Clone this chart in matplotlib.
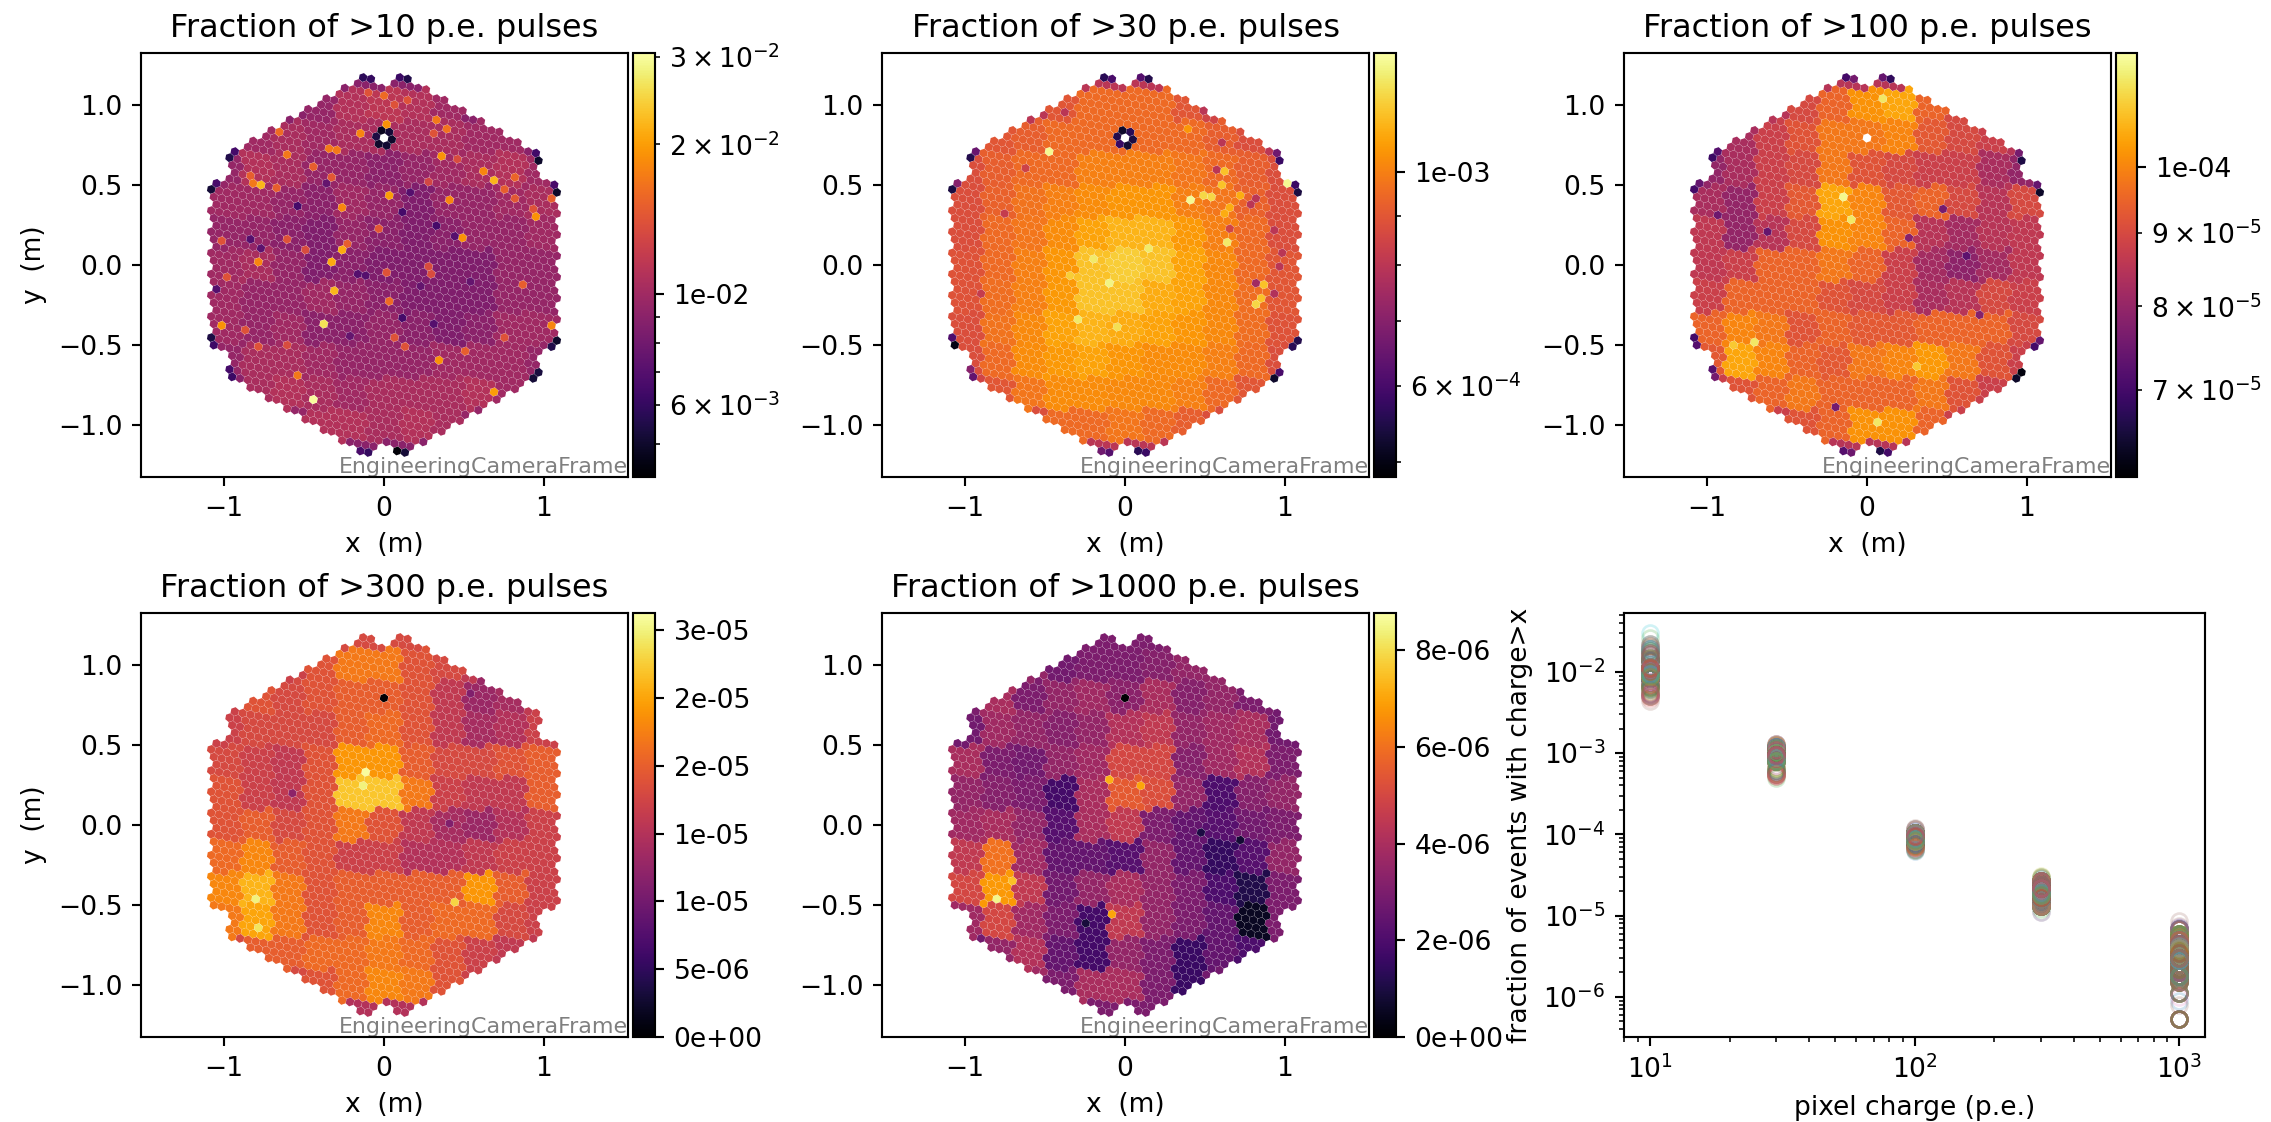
import numpy as np
import matplotlib
matplotlib.use("Agg")
import matplotlib.pyplot as plt
from matplotlib.collections import PolyCollection
from matplotlib.colors import LogNorm, Normalize
from matplotlib.ticker import LogLocator

W, H = 2271, 1122
DPI = 191

thresholds = [10, 30, 100, 300, 1000]

# coarse maps: rows y = 1.2 ... -1.2, columns x = -1.2 ... 1.2
frac_10 = [  # 1e-3
    [9, 9, 9, 9, 9, 9, 9, 9, 9, 9, 9, 9, 9],
    [9, 9, 9, 9, 9.5, 11, 11.5, 11, 10, 9, 9, 9, 9],
    [9, 9, 10, 10.5, 10, 10.5, 10.5, 10.5, 10.5, 10, 10, 9, 9],
    [9, 9.5, 11, 10.5, 9.5, 9.5, 9, 9.5, 10, 10.5, 11, 10, 9],
    [9, 10, 10, 9.5, 9, 10, 9.5, 8.5, 9.5, 9.5, 10, 10.5, 9],
    [9, 9.5, 9.5, 9, 8.5, 9.5, 9, 8.5, 9, 9.5, 9.5, 10, 9],
    [9, 10, 10.5, 9.5, 8.5, 9, 8.5, 8.5, 8.5, 8.5, 9.5, 9.5, 9],
    [9, 10, 9.5, 9.5, 10, 9.5, 9, 8.5, 8.5, 8.5, 9.5, 9.5, 9],
    [9, 10, 9.5, 10, 9, 9, 9.5, 9, 8.5, 9, 10, 10, 9],
    [9, 9.5, 10.5, 10.5, 10, 9.5, 9.5, 9.5, 10, 10, 10, 9.5, 9],
    [9, 9, 10.5, 11, 10.5, 10, 10.5, 10.5, 10.5, 11, 10, 9, 9],
    [9, 9, 9, 9.5, 11, 11, 10.5, 11, 10.5, 9.5, 9, 9, 9],
    [9, 9, 9, 9, 9, 9, 9, 9, 9, 9, 9, 9, 9],
]
frac_30 = [  # 1e-4
    [8, 8, 8, 8, 8, 8, 8, 8, 8, 8, 8, 8, 8],
    [8, 8, 8, 8, 9, 9.5, 9.5, 9.5, 9, 8.5, 8, 8, 8],
    [8, 8, 9, 9.2, 9.5, 9.5, 9.5, 9.5, 9.5, 9.2, 8.8, 8, 8],
    [8, 8.8, 9.2, 9.5, 9.5, 10, 10, 10, 9.8, 9.5, 9.2, 8.8, 8],
    [8, 8.8, 9.3, 9.7, 10, 10.3, 10.5, 10.5, 10, 9.8, 9.3, 8.8, 8],
    [8, 8.8, 9.5, 9.8, 10.3, 10.8, 11.2, 11.2, 10.6, 10, 9.5, 8.8, 8],
    [8, 8.9, 9.5, 10, 10.5, 11.5, 11.8, 11.5, 10.8, 10.2, 9.5, 9, 8],
    [8, 8.9, 9.6, 10, 10.6, 11.5, 11.5, 11, 10.8, 10.2, 9.6, 9, 8],
    [8, 8.8, 9.7, 10.2, 10.8, 11.2, 11, 10.8, 10.5, 10.2, 9.6, 8.9, 8],
    [8, 8.8, 9.5, 10.3, 10.6, 10.8, 10.5, 10.3, 10.3, 10, 9.5, 8.8, 8],
    [8, 8.5, 9, 9.8, 10.3, 10.3, 10.2, 10.2, 10, 9.5, 9, 8.5, 8],
    [8, 8, 8, 8.8, 9.5, 9.5, 9.8, 9.5, 9.2, 8.8, 8, 8, 8],
    [8, 8, 8, 8, 8, 8, 8, 8, 8, 8, 8, 8, 8],
]
frac_100 = [  # 1e-5
    [8.5, 8.5, 8.5, 8.5, 8.5, 8.5, 8.5, 8.5, 8.5, 8.5, 8.5, 8.5, 8.5],
    [8.5, 8.5, 8.5, 8.5, 9, 9.5, 10.2, 10.5, 9.5, 9, 8.5, 8.5, 8.5],
    [8.5, 8.5, 8.3, 8.8, 9.2, 9.8, 9.8, 10, 9.3, 9, 8.8, 8.5, 8.5],
    [8.5, 8, 8.3, 8.8, 9, 9.8, 9.2, 9, 8.8, 8.8, 8.3, 8, 8.5],
    [8.5, 8.3, 8, 8.8, 9.3, 10.5, 10, 9.3, 9.5, 9, 8.5, 9, 8.5],
    [8.5, 8.6, 8, 8.5, 9, 10.2, 10, 9.5, 8.5, 8.2, 8.5, 8.6, 8.5],
    [8.5, 8.6, 8.8, 9.5, 9.5, 9.8, 9.5, 8.8, 8.2, 7.9, 8.2, 8.6, 8.5],
    [8.5, 8.8, 9.5, 9.5, 9.5, 9.2, 9, 8.8, 8.3, 8.5, 9, 8.8, 8.5],
    [8.5, 9.5, 10, 9.8, 9.2, 9.5, 9.3, 9.3, 9.5, 9.5, 9.5, 9, 8.5],
    [8.5, 9.3, 10.5, 10, 9.5, 9.3, 9.8, 10, 10.3, 9.8, 9.2, 8.8, 8.5],
    [8.5, 8.8, 9.2, 9.5, 9.8, 9.5, 9.5, 9.5, 9.8, 9.2, 8.8, 8.5, 8.5],
    [8.5, 8.5, 8.5, 8.8, 9.2, 9.5, 10.2, 10.2, 9.5, 8.8, 8.5, 8.5, 8.5],
    [8.5, 8.5, 8.5, 8.5, 8.5, 8.5, 8.5, 8.5, 8.5, 8.5, 8.5, 8.5, 8.5],
]
frac_300 = [  # 1e-6
    [18, 18, 18, 18, 18, 18, 18, 18, 18, 18, 18, 18, 18],
    [17, 17, 17, 17, 19, 22, 22, 19, 18, 16, 16, 16, 16],
    [17, 17, 19, 18, 19, 20, 20, 19, 16, 13, 14, 16, 16],
    [17, 17, 18, 18, 18, 20, 21, 19, 16, 14, 15, 17, 17],
    [17, 18, 17, 16, 19, 24, 24, 20, 18, 18, 19, 20, 17],
    [17, 19, 17, 16, 19, 27, 27, 22, 17, 16, 16, 20, 17],
    [17, 19, 20, 18, 19, 22, 19, 16, 14, 13, 15, 17, 17],
    [17, 21, 23, 20, 19, 17, 17, 15, 15, 16, 17, 17, 17],
    [17, 23, 26, 22, 19, 20, 20, 20, 20, 24, 20, 17, 17],
    [17, 22, 25, 22, 19, 20, 23, 20, 21, 21, 18, 17, 17],
    [17, 18, 20, 20, 21, 21, 22, 21, 19, 17, 16, 16, 17],
    [17, 17, 17, 18, 19, 21, 23, 22, 19, 17, 17, 17, 17],
    [15, 15, 15, 15, 15, 15, 15, 15, 15, 15, 15, 15, 15],
]
frac_1000 = [  # 1e-7
    [30, 30, 30, 30, 30, 30, 30, 30, 30, 30, 30, 30, 30],
    [35, 35, 35, 35, 28, 30, 30, 32, 35, 35, 35, 35, 35],
    [30, 30, 40, 30, 35, 38, 33, 40, 32, 35, 30, 30, 30],
    [30, 28, 38, 35, 32, 35, 42, 45, 35, 38, 40, 28, 30],
    [30, 40, 30, 28, 35, 38, 50, 50, 32, 38, 42, 30, 30],
    [30, 35, 32, 30, 18, 40, 55, 52, 35, 20, 32, 35, 30],
    [30, 38, 40, 35, 22, 40, 45, 30, 25, 22, 28, 30, 30],
    [30, 45, 60, 38, 25, 25, 22, 35, 25, 15, 22, 35, 30],
    [30, 50, 68, 45, 28, 35, 40, 35, 30, 20, 11, 30, 30],
    [30, 38, 50, 38, 30, 18, 45, 35, 30, 25, 5.3, 30, 30],
    [30, 28, 35, 42, 25, 18, 35, 30, 16, 25, 20, 30, 30],
    [30, 30, 30, 38, 30, 40, 40, 30, 16, 28, 30, 30, 30],
    [30, 30, 30, 30, 30, 30, 30, 30, 30, 30, 30, 30, 30],
]
units = [1e-3, 1e-4, 1e-5, 1e-6, 1e-7]
maps = [frac_10, frac_30, frac_100, frac_300, frac_1000]

# single standout pixels (x, y, value in the panel's unit)
hot_10 = [(0.02, 0.88, 19), (-0.145, 0.82, 18), (0.33, 0.906, 17), (0.39, 0.85, 16.5),
          (-0.6, 0.69, 17), (-0.65, 0.83, 16), (-0.34, 0.725, 17), (-0.29, 0.72, 17),
          (0.36, 0.68, 19), (-0.44, 0.61, 15), (-0.77, 0.5, 22), (-0.82, 0.51, 17),
          (0.69, 0.53, 22), (0.62, 0.59, 18), (0.03, 0.43, 20), (0.41, 0.41, 18),
          (-0.26, 0.36, 18), (0.95, 0.3, 19), (0.49, 0.17, 19), (-0.26, 0.1, 21),
          (-0.33, 0.02, 21), (-0.79, 0.02, 18), (-0.31, -0.16, 22), (-0.38, -0.37, 26),
          (-1.02, -0.38, 19), (1.05, -0.38, 18), (0.03, -0.23, 16), (0.34, -0.6, 19),
          (-0.54, -0.69, 17), (0.69, -0.8, 20), (-0.44, -0.84, 30),
          (0, 1.07, 16), (-0.1, 1.09, 14), (0.06, 0.99, 14), (0.15, 1.04, 14), (0.31, 0.82, 14),
          (0.07, -0.45, 14), (0.13, -0.51, 14), (0.51, -0.54, 15), (0.75, -0.46, 14),
          (0.87, -0.13, 15), (0.28, 0.0, 13.5), (0.29, -0.05, 13.5), (0.01, -0.05, 14),
          (-0.49, 0.1, 13.5), (-0.62, 0.16, 14), (-1.0, 0.15, 14), (-0.98, -0.1, 14),
          (-0.87, -0.41, 14), (-0.79, -0.51, 14), (-0.6, -0.5, 13.5), (0.94, 0.34, 14),
          (0.82, 0.41, 14.5), (1.05, 0.41, 15), (0.76, 0.47, 15), (0.81, 0.55, 15.5),
          (0.28, 0.52, 13), (0.46, 0.66, 13.5), (-0.82, 0.55, 15), (-0.67, 0.48, 15),
          (-0.32, 0.55, 14.5), (-0.03, 0.23, 14.5), (-0.23, 0.13, 15),
          (-0.54, 0.37, 6.5), (0.12, 0.33, 6.5), (0.33, 0.25, 6.5), (0.12, -0.33, 6.5),
          (-0.17, -0.06, 7), (-0.12, -0.07, 7), (0.16, 0.45, 7), (0.44, 0.18, 7),
          (0.31, -0.38, 7), (-0.84, 0.14, 7), (-0.75, 0.09, 7.2), (-1.05, -0.13, 7),
          (-0.36, 0.5, 7.5), (0.25, -0.15, 7.5), (0.55, -0.1, 7.5), (-0.2, -0.45, 7.5)]
hot_30 = [(1.02, 0.51, 13), (0.41, 0.41, 13), (0.64, 0.14, 12.5), (0.39, 0.86, 10.5),
          (-0.48, 0.71, 13), (0.79, 0.38, 8), (0.82, -0.11, 7.5), (-0.1, -0.1, 12.8),
          (-0.3, -0.35, 12.5), (0.15, 0.1, 12.5),
          (0.58, 0.59, 8), (0.62, 0.59, 11.5), (0.6, 0.5, 11.5), (0.81, 0.39, 8), (0.72, 0.42, 11),
          (0.67, 0.34, 11), (0.6, 0.31, 11), (0.64, 0.22, 8.5), (0.94, 0.24, 8), (0.99, 0.1, 8),
          (0.94, -0.02, 8), (0.92, -0.19, 7.8), (0.61, 0.77, 8), (0.49, 0.96, 8),
          (0.86, -0.12, 11.5), (0.82, -0.25, 12), (0.85, -0.21, 11.5), (0.49, 0.44, 12),
          (0.55, 0.43, 12), (-0.2, 0.05, 12.5), (-0.05, -0.4, 12.2), (-0.35, -0.05, 11.8),
          (-0.75, 0.3, 8.2), (-0.9, -0.2, 8.2), (-0.6, 0.6, 8.4), (-0.4, 0.95, 8)]
hot_100 = [(-0.15, 0.4, 11.8), (-0.1, 0.3, 11.5), (0.05, -0.98, 11.5), (0.3, -0.62, 11),
           (-0.72, -0.5, 11.5), (-0.85, -0.5, 11), (0.1, 1.05, 11.5),
           (-0.95, 0.3, 7.5), (-0.6, 0.2, 7.4), (0.5, 0.35, 7.6), (0.6, 0.05, 7.3),
           (0.25, 0.15, 7.8), (0.7, -0.3, 7.8), (-0.2, -0.9, 7.6)]
hot_300 = [(-0.1, 0.35, 31), (-0.15, 0.25, 30), (-0.8, -0.45, 30), (-0.8, -0.65, 29),
           (0.45, -0.5, 28), (0.4, 0.0, 11), (0.55, 0.8, 11), (-0.55, 0.2, 12)]
hot_1000 = [(-0.8, -0.45, 85), (-0.7, -0.35, 75), (0.1, 0.25, 70), (-0.1, 0.28, 72),
            (-0.1, -0.55, 70), (0.45, -0.05, 10), (0.7, -0.1, 8), (-0.25, -0.6, 9)]
hots = [hot_10, hot_30, hot_100, hot_300, hot_1000]

# the dark pixels at the cut camera corners, and around the dead pixel
corner_10 = [4.4, 5.2, 5.3, 5.2, 6.6, 6.0, 5.0, 5.5, 6.5, 6.2, 5.0, 6.6,
             5.4, 6.3, 5.0, 6.4, 6.6, 5.2, 5.5, 6.2, 6.5, 5.5, 6.0, 5.8]
corner_30 = [5.6, 5.8, 6.0, 5.2, 6.6, 6.2, 5.5, 5.6, 7.0, 6.4, 5.4, 5.8,
             6.1, 5.0, 5.8, 6.6, 7.0, 5.4, 5.5, 6.2, 6.5, 5.5, 6.0, 5.6]
corner_100 = [6.6, 7.0, 6.2, 6.4, 7.2, 7.5, 7.4, 7.0, 7.2, 7.6, 6.4, 7.4,
              7.0, 7.2, 6.6, 7.6, 7.4, 7.0, 6.8, 7.4, 7.2, 6.9, 7.6, 7.0]
corner_values = [corner_10, corner_30, corner_100, None, None]
ring_10 = [5.0, 5.2, 4.8, 5.4, 5.0, 5.1]
ring_30 = [5.4, 5.6, 5.2, 5.5, 5.8, 5.3]
ring_values = [ring_10, ring_30, None, None, None]
dead_values = [np.nan, np.nan, np.nan, 0.0, 0.0]

titles = ['Fraction of >10 p.e. pulses', 'Fraction of >30 p.e. pulses',
          'Fraction of >100 p.e. pulses', 'Fraction of >300 p.e. pulses',
          'Fraction of >1000 p.e. pulses']

vranges = [(4.3e-3, 3.05e-2), (4.82e-4, 1.33e-3), (6.09e-5, 1.2e-4),
           (0, 3.126e-5), (0, 8.77e-6)]


def sci(m, e):
    return r'$\mathdefault{%d\times10^{%d}}$' % (m, e)


# colorbar ticks: (major, major labels, minor, minor labels)
cbar_ticks = [
    ([1e-2], ['1e-02'], [5e-3, 6e-3, 7e-3, 8e-3, 9e-3, 2e-2, 3e-2],
     ['', sci(6, -3), '', '', '', sci(2, -2), sci(3, -2)]),
    ([1e-3], ['1e-03'], [5e-4, 6e-4, 7e-4, 8e-4, 9e-4], ['', sci(6, -4), '', '', '']),
    ([1e-4], ['1e-04'], [7e-5, 8e-5, 9e-5], [sci(7, -5), sci(8, -5), sci(9, -5)]),
    ([0, 5e-6, 1e-5, 1.5e-5, 2e-5, 2.5e-5, 3e-5],
     ['0e+00', '5e-06', '1e-05', '1e-05', '2e-05', '2e-05', '3e-05'], [], []),
    ([0, 2e-6, 4e-6, 6e-6, 8e-6], ['0e+00', '2e-06', '4e-06', '6e-06', '8e-06'], [], []),
]

# pixel-space boxes (left, top, right, bottom)
map_boxes = [(141, 53, 628, 477), (882, 53, 1369, 477), (1624, 53, 2111, 477),
             (141, 613, 628, 1037), (882, 613, 1369, 1037)]
cbar_boxes = [(633, 53, 655, 477), (1374, 53, 1396, 477), (2116, 53, 2137, 477),
              (633, 613, 655, 1037), (1374, 613, 1396, 1037)]


def add_box(fig, box):
    l, t, r, b = box
    return fig.add_axes([l / W, 1 - b / H, (r - l) / W, (b - t) / H])


def camera_pixels():
    # 265 modules of 7 pixels: hexagon of radius 9 modules without its 6 corners
    pitch = 0.05
    mod = pitch * np.sqrt(7)
    a = np.array([0, 1])
    b = np.array([np.cos(np.radians(30)), np.sin(np.radians(30))])
    centres = []
    for i in range(-9, 10):
        for j in range(-9, 10):
            if abs(i + j) > 9:
                continue
            if sorted([abs(i), abs(j), abs(i + j)]) == [0, 9, 9]:
                continue
            centres.append(mod * (i * a + j * b))
    ang = np.radians([-10.9, 49.1, 109.1, 169.1, 229.1, 289.1])
    offs = np.vstack([[0, 0], np.c_[np.cos(ang), np.sin(ang)] * pitch])
    return np.vstack([c + offs for c in centres])


xy = camera_pixels()
grid_x = np.arange(-1.2, 1.21, 0.2)
grid_y = np.arange(1.2, -1.21, -0.2)
col = np.abs(xy[:, 0, None] - grid_x).argmin(axis=1)
row = np.abs(xy[:, 1, None] - grid_y).argmin(axis=1)

hex_r = 0.05 / np.sqrt(3) * 0.98
hex_ang = np.radians(19.1 + 60 * np.arange(6))
hex_verts = np.c_[np.cos(hex_ang), np.sin(hex_ang)] * hex_r
polys = [hex_verts + p for p in xy]

near_corner = np.hypot(xy[:, 0], xy[:, 1]) > 1.15
dead = np.hypot(xy[:, 0], xy[:, 1] - 0.05 * np.sqrt(7) * 6).argmin()
ring = np.hypot(xy[:, 0] - xy[dead, 0], xy[:, 1] - xy[dead, 1])
ring = (ring > 0.01) & (ring < 0.06)

values = []
for i in range(5):
    v = np.array(maps[i])[row, col] * units[i]
    for hx, hy, hv in hots[i]:
        v[np.hypot(xy[:, 0] - hx, xy[:, 1] - hy).argmin()] = hv * units[i]
    if corner_values[i] is not None:
        v[near_corner] = np.array(corner_values[i]) * units[i]
    if ring_values[i] is not None:
        v[ring] = np.array(ring_values[i]) * units[i]
    v[dead] = dead_values[i]
    values.append(v)

fig = plt.figure(figsize=((W + 0.01) / DPI, (H + 0.01) / DPI), dpi=DPI)

for i in range(5):
    ax = add_box(fig, map_boxes[i])
    vmin, vmax = vranges[i]
    norm = LogNorm(vmin, vmax) if vmin > 0 else Normalize(vmin, vmax)
    pc = PolyCollection(polys, array=np.ma.masked_invalid(values[i]), cmap='inferno',
                        norm=norm, edgecolors='none')
    ax.add_collection(pc)
    ax.set_xlim(-1.519, 1.525)
    ax.set_ylim(-1.325, 1.325)
    ax.set_xticks([-1, 0, 1])
    ax.set_yticks([-1, -0.5, 0, 0.5, 1])
    ax.set_xlabel('x  (m)')
    if i in (0, 3):
        ax.set_ylabel('y  (m)')
    ax.set_title(titles[i])
    ax.text(1, 0, 'EngineeringCameraFrame', transform=ax.transAxes, ha='right', va='bottom',
            fontsize='small', color='black', alpha=0.5)

    cax = add_box(fig, cbar_boxes[i])
    cbar = fig.colorbar(pc, cax=cax)
    major, major_labels, minor, minor_labels = cbar_ticks[i]
    cax.set_yticks(major, labels=major_labels)
    cax.set_yticks(minor, labels=minor_labels, minor=True)

ax = add_box(fig, (1624, 613, 2205, 1037))
for k in range(len(xy)):
    pts = [values[i][k] for i in range(5)]
    ax.plot(thresholds, pts, 'o', fillstyle='none', alpha=0.2, color='C%d' % (k % 10))
ax.set_xscale('log')
ax.set_yscale('log')
ax.set_xlim(7.97, 1250)
ax.set_ylim(3.2e-7, 5.3e-2)
ax.yaxis.set_major_locator(LogLocator(numticks=12))
ax.yaxis.set_minor_locator(LogLocator(subs=np.arange(2, 10) * 0.1, numticks=12))
ax.set_xlabel('pixel charge (p.e.)')
ax.set_ylabel('fraction of events with charge>x')

fig.savefig('out.png', dpi=DPI)
